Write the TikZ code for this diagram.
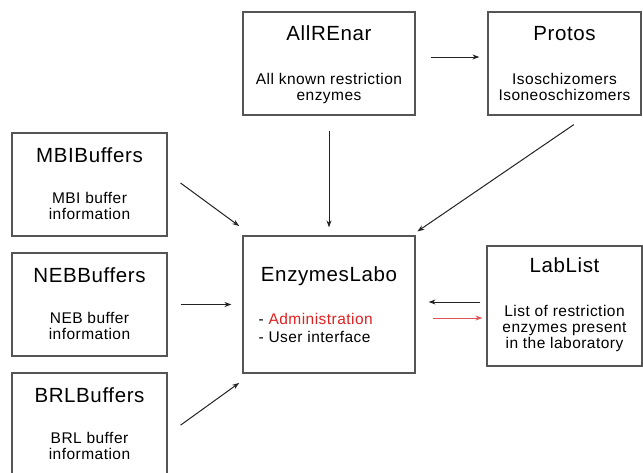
\documentclass[tikz,border=0pt]{standalone}
\usepackage{fontspec}
\setmainfont{Liberation Sans}[LetterSpace=3]
\usetikzlibrary{arrows.meta,positioning}
\definecolor{boxline}{HTML}{555555}
\definecolor{arrowline}{HTML}{222222}
\definecolor{adminred}{HTML}{E02020}
\definecolor{redarrow}{HTML}{E05555}
\tikzset{
  modbox/.style={draw=boxline, line width=1.2pt, inner sep=0pt},
  modtitle/.style={font=\fontsize{20.5}{24}\selectfont, anchor=base, inner sep=0pt},
  modinfo/.style={font=\fontsize{15.5}{16}\selectfont, align=center, anchor=base, inner sep=0pt},
  link/.style={draw=arrowline, line width=1pt, -{Stealth[length=7pt,width=5pt]}},
}
\begin{document}
\begin{tikzpicture}[x=1pt, y=-1pt]
\useasboundingbox (0,0) rectangle (643,472);
% modules
\node[modbox, minimum width=172pt, minimum height=103pt] (allrenar) at (329,63.5) {};
\node[modbox, minimum width=153pt, minimum height=103pt] (protos) at (564.5,63.5) {};
\node[modbox, minimum width=155pt, minimum height=103pt] (mbi) at (89.5,184.5) {};
\node[modbox, minimum width=155pt, minimum height=103pt] (neb) at (89.5,304.5) {};
\node[modbox, minimum width=155pt, minimum height=103pt] (brl) at (89.5,424.5) {};
\node[modbox, minimum width=172pt, minimum height=137pt] (enz) at (329,304.5) {};
\node[modbox, minimum width=155pt, minimum height=120pt] (lab) at (564.5,306) {};
% texts (base of a wrapped text = its last line)
\node[modtitle] (allrenartitle) at ([yshift=-29pt]allrenar.north) {AllREnar};
\node[modinfo] (allrenarinfo) at ([yshift=-89pt]allrenar.north) {All known restriction\\enzymes};
\node[modtitle] (protostitle) at ([yshift=-29pt]protos.north) {Protos};
\node[modinfo] (protosinfo) at ([yshift=-89pt]protos.north) {Isoschizomers\\Isoneoschizomers};
\node[modtitle] (mbititle) at ([yshift=-30pt]mbi.north) {MBIBuffers};
\node[modinfo] (mbiinfo) at ([yshift=-87pt]mbi.north) {MBI buffer\\information};
\node[modtitle] (nebtitle) at ([yshift=-30pt]neb.north) {NEBBuffers};
\node[modinfo] (nebinfo) at ([yshift=-87pt]neb.north) {NEB buffer\\information};
\node[modtitle] (brltitle) at ([yshift=-30pt]brl.north) {BRLBuffers};
\node[modinfo] (brlinfo) at ([yshift=-87pt]brl.north) {BRL buffer\\information};
\node[modtitle] (enztitle) at ([yshift=-46pt]enz.north) {EnzymesLabo};
\node[modinfo, align=left, anchor=base west] (enzinfo) at ([xshift=16pt,yshift=-107pt]enz.north west)
  {- \textcolor{adminred}{Administration}\\[2pt]- User interface};
\node[modtitle] (labtitle) at ([yshift=-27pt]lab.north) {LabList};
\node[modinfo] (labinfo) at ([yshift=-103pt]lab.north) {List of restriction\\enzymes present\\in the laboratory};
% links
\draw[link, shorten <=15pt, shorten >=8pt] ([yshift=6.5pt]allrenar.east) -- ([yshift=6.5pt]protos.west);
\draw[link, shorten <=15pt, shorten >=8pt] (allrenar.south) -- (enz.north);
\draw[link, shorten <=16pt, shorten >=7pt] ([xshift=22.5pt]protos.south) -- ([xshift=-4pt]enz.north east);
\draw[link, shorten <=16pt, shorten >=4pt] ([yshift=11pt]mbi.east) -- ([yshift=7pt]enz.north west);
\draw[link, shorten <=13pt, shorten >=11pt] (neb.east) -- (enz.west);
\draw[link, shorten <=16pt, shorten >=4pt] ([yshift=-10pt]brl.east) -- ([yshift=-7pt]enz.south west);
\draw[link, shorten <=6pt, shorten >=13pt] ([yshift=4pt]lab.west) -- ([yshift=4pt]lab.west -| enz.east);
\draw[link, draw=redarrow, shorten <=17pt, shorten >=4pt] ([yshift=-12pt]lab.west -| enz.east) -- ([yshift=-12pt]lab.west);
\end{tikzpicture}
\end{document}
